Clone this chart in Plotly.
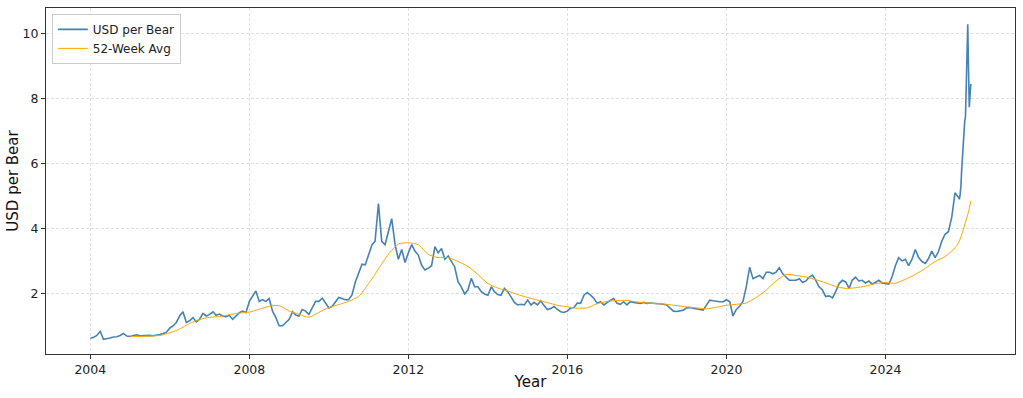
import pandas as pd
import plotly.graph_objects as go

# ---- data ----
# monthly values, Jan 2004 .. Oct 2025 (month starts)
price_2004 = [0.61, 0.64, 0.70, 0.83, 0.58, 0.59, 0.62, 0.65, 0.66, 0.70, 0.76, 0.68]
price_2005 = [0.67, 0.70, 0.72, 0.69, 0.70, 0.70, 0.70, 0.69, 0.70, 0.73, 0.76, 0.80]
price_2006 = [0.93, 1.00, 1.10, 1.30, 1.43, 1.10, 1.15, 1.25, 1.12, 1.20, 1.38, 1.30]
price_2007 = [1.35, 1.43, 1.32, 1.36, 1.30, 1.28, 1.32, 1.20, 1.30, 1.40, 1.45, 1.40]
price_2008 = [1.75, 1.90, 2.07, 1.75, 1.80, 1.75, 1.84, 1.45, 1.25, 1.00, 1.00, 1.10]
price_2009 = [1.20, 1.43, 1.33, 1.30, 1.50, 1.45, 1.35, 1.55, 1.75, 1.75, 1.85, 1.70]
price_2010 = [1.55, 1.60, 1.72, 1.87, 1.84, 1.80, 1.80, 1.95, 2.35, 2.65, 2.90, 2.88]
price_2011 = [3.20, 3.50, 3.60, 4.77, 3.60, 3.50, 3.90, 4.30, 3.50, 3.05, 3.35, 2.95]
price_2012 = [3.25, 3.50, 3.30, 3.18, 2.87, 2.72, 2.77, 2.85, 3.44, 3.25, 3.38, 3.05]
price_2013 = [3.15, 2.97, 2.82, 2.36, 2.20, 1.98, 2.10, 2.46, 2.20, 2.20, 2.05, 1.98]
price_2014 = [1.94, 2.20, 2.05, 1.96, 1.94, 2.15, 2.05, 1.89, 1.72, 1.64, 1.66, 1.64]
price_2015 = [1.79, 1.64, 1.72, 1.64, 1.77, 1.62, 1.50, 1.53, 1.59, 1.50, 1.43, 1.41]
price_2016 = [1.45, 1.55, 1.56, 1.70, 1.69, 1.94, 2.02, 1.94, 1.84, 1.69, 1.74, 1.64]
price_2017 = [1.72, 1.79, 1.84, 1.69, 1.66, 1.74, 1.64, 1.74, 1.72, 1.70, 1.69, 1.72]
price_2018 = [1.69, 1.70, 1.69, 1.70, 1.69, 1.66, 1.64, 1.55, 1.45, 1.44, 1.46, 1.48]
price_2019 = [1.55, 1.56, 1.54, 1.53, 1.50, 1.48, 1.64, 1.79, 1.77, 1.75, 1.74, 1.74]
price_2020 = [1.80, 1.74, 1.30, 1.50, 1.60, 1.75, 2.20, 2.80, 2.45, 2.50, 2.55, 2.45]
price_2021 = [2.65, 2.65, 2.60, 2.65, 2.79, 2.60, 2.50, 2.40, 2.40, 2.40, 2.45, 2.33]
price_2022 = [2.38, 2.50, 2.56, 2.40, 2.20, 2.10, 1.90, 1.92, 1.86, 2.05, 2.30, 2.40]
price_2023 = [2.35, 2.15, 2.40, 2.50, 2.38, 2.40, 2.32, 2.38, 2.28, 2.33, 2.40, 2.32]
price_2024 = [2.30, 2.28, 2.50, 2.85, 3.10, 3.00, 3.05, 2.85, 3.05, 3.35, 3.10, 2.98]
price_2025 = [2.92, 3.08, 3.30, 3.10, 3.28, 3.60, 3.82, 3.90, 4.35, 5.10]

# weekly tail, Nov 2025 .. Feb 2026
tail_dates = ["2025-11-03", "2025-11-10", "2025-11-17", "2025-11-24", "2025-12-01",
              "2025-12-08", "2025-12-15", "2025-12-22", "2025-12-29", "2026-01-05",
              "2026-01-12", "2026-01-19", "2026-01-26", "2026-02-02", "2026-02-09",
              "2026-02-16", "2026-02-23"]
tail_price = [4.95, 4.90, 5.05, 5.30, 5.80, 6.20, 6.70, 7.10, 7.30, 7.45,
              8.40, 9.40, 10.30, 8.90, 7.74, 8.10, 8.46]

# 52-week average, quarterly from Jan 2005 to Oct 2025, then a monthly tail
avg_quarterly = [0.66, 0.67, 0.68, 0.70,
                 0.78, 0.90, 1.07, 1.19,
                 1.26, 1.28, 1.34, 1.39,
                 1.42, 1.51, 1.60, 1.62,
                 1.45, 1.35, 1.26, 1.41,
                 1.56, 1.65, 1.75, 1.90,
                 2.30, 2.75, 3.20, 3.52,
                 3.56, 3.50, 3.20, 3.10,
                 3.10, 2.98, 2.83, 2.58,
                 2.30, 2.16, 2.07, 1.96,
                 1.87, 1.79, 1.71, 1.63,
                 1.58, 1.54, 1.55, 1.68,
                 1.75, 1.78, 1.78, 1.73,
                 1.70, 1.68, 1.66, 1.62,
                 1.58, 1.55, 1.52, 1.57,
                 1.63, 1.66, 1.70, 1.87,
                 2.10, 2.38, 2.58, 2.55,
                 2.50, 2.42, 2.32, 2.21,
                 2.15, 2.17, 2.22, 2.30,
                 2.33, 2.31, 2.43, 2.58,
                 2.77, 2.98, 3.13, 3.40]
avg_tail_dates = ["2025-11-01", "2025-12-01", "2026-01-01", "2026-02-01", "2026-02-23"]
avg_tail = [3.55, 3.80, 4.15, 4.50, 4.85]

tick_years = [2004, 2008, 2012, 2016, 2020, 2024]
y_ticks = [2, 4, 6, 8, 10]

# ---- assemble ----
monthly = (price_2004 + price_2005 + price_2006 + price_2007 + price_2008 + price_2009 +
           price_2010 + price_2011 + price_2012 + price_2013 + price_2014 + price_2015 +
           price_2016 + price_2017 + price_2018 + price_2019 + price_2020 + price_2021 +
           price_2022 + price_2023 + price_2024 + price_2025)
monthly_dates = pd.date_range("2004-01-01", periods=len(monthly), freq="MS")
price_x = list(monthly_dates) + list(pd.to_datetime(tail_dates))
price_y = monthly + tail_price

avg_dates = pd.date_range("2005-01-01", periods=len(avg_quarterly), freq="QS")
avg_x = list(avg_dates) + list(pd.to_datetime(avg_tail_dates))
avg_y = avg_quarterly + avg_tail

font = "DejaVu Sans, Verdana, sans-serif"

fig = go.Figure()
fig.add_trace(go.Scatter(x=price_x, y=price_y, mode="lines", name="USD per Bear",
                         line=dict(color="#4682b4", width=1.6)))
fig.add_trace(go.Scatter(x=avg_x, y=avg_y, mode="lines", name="52-Week Avg",
                         line=dict(color="#ffa500", width=1, shape="spline", smoothing=0.6)))

axis_common = dict(
    showline=True, linecolor="#333", linewidth=1, mirror=True,
    ticks="outside", ticklen=4, tickcolor="#333", tickwidth=1,
    showgrid=True, gridcolor="#e0e0e0", griddash="3px,2px", gridwidth=1,
    zeroline=False, tickfont=dict(family=font, size=12.5, color="#222"),
    automargin=False,
)

fig.update_xaxes(
    **axis_common,
    type="date",
    range=["2002-11-20", "2027-04-05"],
    tickvals=[pd.Timestamp(f"{y}-01-01") for y in tick_years],
    ticktext=[str(y) for y in tick_years],
    title=dict(text="Year", font=dict(family=font, size=15, color="#111"), standoff=0),
)
fig.update_yaxes(
    **axis_common,
    range=[0.127, 10.80],
    tickvals=y_ticks,
    ticktext=[str(v) for v in y_ticks],
    title=dict(text="USD per Bear", font=dict(family=font, size=15, color="#111"), standoff=0),
)

fig.update_layout(
    width=1023, height=398,
    margin=dict(l=46, r=8, t=8, b=44),
    paper_bgcolor="white", plot_bgcolor="white",
    font=dict(family=font, size=12, color="#222"),
    showlegend=True,
    legend=dict(x=0.006, y=0.983, xanchor="left", yanchor="top",
                bgcolor="rgba(255,255,255,0.85)", bordercolor="#cccccc", borderwidth=1,
                font=dict(family=font, size=12, color="#222"),
                tracegroupgap=0, itemwidth=30),
)

# remove the page's default body margin so the figure fills the window exactly
fig.write_html("out.html",
               config={"displayModeBar": False},
               post_script="document.body.style.margin='0';document.body.style.overflow='hidden';")
